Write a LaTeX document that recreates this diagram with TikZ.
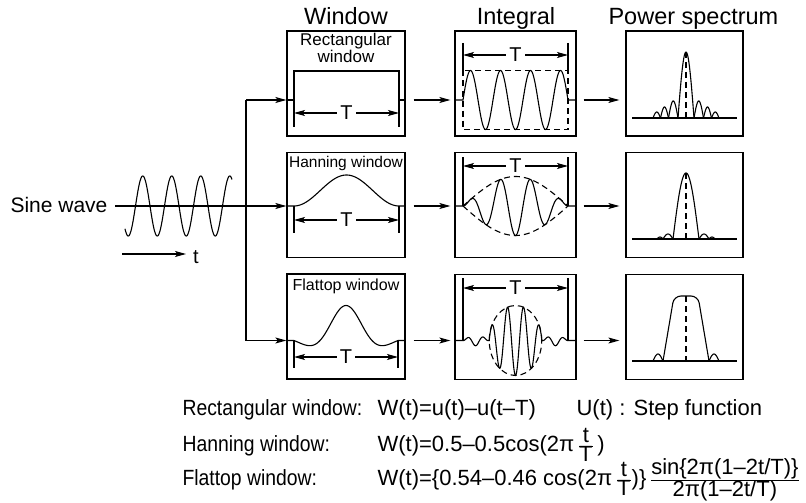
\documentclass[tikz,border=0pt]{standalone}
\usepackage{fontspec}
\usepackage{graphicx}
\setmainfont{Liberation Sans}
\usetikzlibrary{arrows.meta}
\newcommand{\fr}[2]{\frac{\hbox{#1}}{\hbox{#2}}}
\newcommand{\lobe}[4]{\draw plot[domain=#1:#2,samples=30] (\x,{#4-#3*sin((\x-#1)/(#2-#1)*180)});}
\begin{document}
\begin{tikzpicture}[x=1pt,y=-1pt,line width=1.1pt,
  declare function={ft(\u)=sin(360*(1-2*\u))/(2*pi*(1-2*\u))*(0.8-0.2*cos(360*\u));},
  wbox/.style={draw,line width=1.3pt,minimum width=118pt,minimum height=105pt,inner sep=0pt},
  ibox/.style={draw,line width=1.3pt,minimum width=121pt,minimum height=105pt,inner sep=0pt},
  pbox/.style={draw,line width=1.3pt,minimum width=117pt,minimum height=105pt,inner sep=0pt},
  arr/.style={-{Stealth[length=11pt,width=6pt,inset=2.5pt]}},
  darr/.style={{Stealth[length=11pt,width=6pt,inset=2.5pt]}-{Stealth[length=11pt,width=6pt,inset=2.5pt]}},
  dsh/.style={dash pattern=on 6pt off 4pt},
  head/.style={anchor=base,inner sep=0pt,font=\fontsize{23.5}{27}\selectfont},
  tlab/.style={fill=white,inner xsep=3pt,inner ysep=1pt,font=\fontsize{20}{24}\selectfont},
  form/.style={anchor=base west,inner sep=0pt,font=\fontsize{22}{26}\selectfont}]
\useasboundingbox (0,0) rectangle (806,503);

% headings
\node[head] (hw) at (346,25) {Window};
\node[head] (hi) at (516,25) {Integral};
\node[head,anchor=base west] (hp) at (608,25) {Power spectrum};

% boxes
\node[wbox] (w1) at (346,83.5) {};
\node[wbox] (w2) at (346,205) {};
\node[wbox] (w3) at (346,326.5) {};
\node[ibox] (i1) at (515.5,83.5) {};
\node[ibox] (i2) at (515.5,205) {};
\node[ibox] (i3) at (515.5,327) {};
\node[pbox] (p1) at (684.5,83.5) {};
\node[pbox] (p2) at (684.5,205) {};
\node[pbox] (p3) at (684.5,327) {};

% sine wave input
\node[anchor=base east,inner sep=0pt,font=\fontsize{21}{25}\selectfont] (sine) at (108,212) {Sine wave};
\draw plot[domain=125:232,samples=200] (\x,{206-30*sin((\x-135.5)/29*360)});
\coordinate (s0) at (115,206);
\coordinate (j1) at (246,100);
\coordinate (j2) at (246,206);
\coordinate (j3) at (246,340.5);
\draw[arr] (s0) -- (w2.west |- j2);
\draw (j1) -- (j3);
\draw[arr] (j1) -- (w1.west |- j1);
\draw[arr] (j3) -- (w3.west |- j3);
\node[anchor=base,inner sep=0pt,font=\fontsize{20}{24}\selectfont] (tl) at (196,263) {t};
\coordinate (ta) at (122,254);
\coordinate (tb) at (186,254);
\draw[arr] (ta) -- (tb);

% column arrows
\foreach \r in {1,2,3}{
  \draw[arr,shorten <=8pt,shorten >=4pt] (w\r.east |- j\r) -- (i\r.west |- j\r);
  \draw[arr,shorten <=7pt,shorten >=6pt] (i\r.east |- j\r) -- (p\r.west |- j\r);
}

% window labels
\node[align=center,anchor=north,inner sep=0pt,font=\fontsize{17}{15}\selectfont] (lr) at (346,33) {Rectangular\\window};
\node[anchor=base,inner sep=0pt,font=\fontsize{15.5}{18}\selectfont] (lh) at (346,167) {Hanning window};
\node[anchor=base,inner sep=0pt,font=\fontsize{16}{18}\selectfont] (lf) at (346,290) {Flattop window};

% window row 1 : rectangular
\draw (w1.west |- j1) -- (294,100) -- (294,71) -- (399,71) -- (399,100) -- (w1.east |- j1);
\draw (294,100) -- (294,127) (399,100) -- (399,127);
\draw[darr] (294,113) -- node[tlab] {T} (399,113);

% window row 2 : hanning
\draw (w2.west |- j2) -- (294,206) -- plot[domain=294:399,samples=80] (\x,{206-31*(0.5-0.5*cos((\x-294)/105*360))}) -- (w2.east |- j2);
\draw (294,206) -- (294,233) (399,206) -- (399,233);
\draw[darr] (294,220) -- node[tlab] {T} (399,220);

% window row 3 : flattop
\draw (w3.west |- j3) -- (294,340.5) -- plot[domain=294:398,samples=100] (\x,{340.5-35*ft((\x-294)/104)}) -- (w3.east |- j3);
\draw (294,340.5) -- (294,368) (398,340.5) -- (398,368);
\draw[darr] (294,357) -- node[tlab] {T} (398,357);

% integral row 1
\draw (i1.west |- j1) -- (463,100) -- plot[domain=463:568,samples=200] (\x,{100-29.5*sin((\x-463)/105*1260)}) -- (i1.east |- j1);
\draw[dsh] (463,70.5) rectangle (568,129.5);
\draw (463,43) -- (463,70.5) (568,43) -- (568,70.5);
\draw[darr] (463,55) -- node[tlab] {T} (568,55);

% integral row 2
\draw (i2.west |- j2) -- (463,206) -- plot[domain=463:568,samples=200] (\x,{206-29.5*sin((\x-463)/105*1260)*sin((\x-463)/105*180)}) -- (i2.east |- j2);
\draw[dsh] plot[domain=463:568,samples=80] (\x,{206-29.5*sin((\x-463)/105*180)});
\draw[dsh] plot[domain=463:568,samples=80] (\x,{206+29.5*sin((\x-463)/105*180)});
\draw (463,157) -- (463,206) (568,157) -- (568,206);
\draw[darr] (463,166) -- node[tlab] {T} (568,166);

% integral row 3
\draw (i3.west |- j3) -- (463,340.5)
  -- plot[domain=463:489.25,samples=60] (\x,{340.5+35*(-0.15*sin((489.25-\x)/26.25*180))*cos((\x-515.5)/16*360)})
  -- plot[domain=489.25:541.75,samples=140] (\x,{340.5+35*sqrt(max(0,1-((\x-515.5)/26.25)^2))*cos((\x-515.5)/16*360)})
  -- plot[domain=541.75:568,samples=60] (\x,{340.5+35*(-0.15*sin((\x-541.75)/26.25*180))*cos((\x-515.5)/16*360)})
  -- (i3.east |- j3);
\draw[dsh] (515.5,340.5) ellipse [x radius=26.25pt,y radius=35pt];
\draw (463,278) -- (463,340.5) (568,278) -- (568,340.5);
\draw[darr] (463,288) -- node[tlab] {T} (568,288);

% power row 1
\draw (632,118) -- (737,118);
\draw plot[domain=678:694,samples=40] (\x,{118-66*cos((\x-686)/16*180)});
\lobe{653}{660.5}{6}{118}
\lobe{660.5}{668.5}{11}{118}
\lobe{668.5}{678}{17}{118}
\lobe{694}{703.5}{17}{118}
\lobe{703.5}{711.5}{11}{118}
\lobe{711.5}{719}{6}{118}
\draw[dsh] (686,52) -- (686,118);

% power row 2
\draw (632,239) -- (737,239);
\draw plot[domain=673:699,samples=50] (\x,{239-66*cos((\x-686)/26*180)});
\lobe{657}{663}{2}{239}
\lobe{663}{673}{5}{239}
\lobe{699}{709}{5}{239}
\lobe{709}{715}{2}{239}
\draw[dsh] (686,173) -- (686,239);

% power row 3
\draw (632,361) -- (737,361);
\draw[rounded corners=7pt] (663,361) -- (674,296) -- (698,296) -- (709,361);
\lobe{653}{663}{7}{361}
\lobe{709}{719}{7}{361}
\draw[dsh] (686,296) -- (686,361);

% formulas
\node[form] (f1a) at (182,415) {\scalebox{0.88}[1]{Rectangular window:}};
\node[form] (f1b) at (377,415) {W(t)=u(t)–u(t–T)};
\node[form] (f1c) at (576,415) {U(t) : Step function};
\node[form] (f2a) at (182,451) {\scalebox{0.88}[1]{Hanning window:}};
\node[form] (f2b) at (377,451) {W(t)=0.5–0.5cos(2π\,$\fr{t}{T}$\,)};
\node[form] (f3a) at (182,485) {\scalebox{0.88}[1]{Flattop window:}};
\node[form] (f3b) at (377,485) {W(t)=\{0.54–0.46 cos(2π\,$\fr{t}{T}$)\}\,$\fr{sin\{2π(1–2t/T)\}}{2π(1–2t/T)}$};
\end{tikzpicture}
\end{document}
